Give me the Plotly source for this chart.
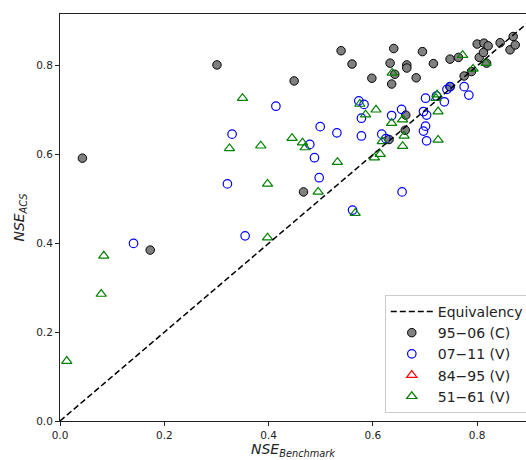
import plotly.graph_objects as go

# NSE of the benchmark model (x) vs. NSE of the ACS model (y), per gauge and period
c9506_bench = [0.043, 0.173, 0.301, 0.449, 0.467, 0.539, 0.560, 0.598, 0.631, 0.633,
               0.636, 0.640, 0.642, 0.662, 0.663, 0.665, 0.665, 0.683, 0.695, 0.716,
               0.748, 0.764, 0.748, 0.775, 0.789, 0.800, 0.804, 0.812, 0.813, 0.818,
               0.821, 0.844, 0.863, 0.869, 0.873]
c9506_acs = [0.592, 0.385, 0.802, 0.766, 0.516, 0.834, 0.804, 0.772, 0.634, 0.806,
             0.759, 0.839, 0.781, 0.655, 0.689, 0.802, 0.795, 0.773, 0.832, 0.805,
             0.815, 0.819, 0.753, 0.777, 0.787, 0.849, 0.819, 0.830, 0.851, 0.806,
             0.845, 0.852, 0.836, 0.866, 0.847]

v0711_bench = [0.141, 0.321, 0.330, 0.355, 0.414, 0.479, 0.488, 0.497, 0.499, 0.531,
               0.561, 0.573, 0.578, 0.578, 0.583, 0.617, 0.625, 0.636, 0.655, 0.656,
               0.697, 0.697, 0.701, 0.701, 0.703, 0.703, 0.722, 0.737, 0.742, 0.748,
               0.775, 0.784]
v0711_acs = [0.400, 0.534, 0.646, 0.417, 0.709, 0.623, 0.593, 0.548, 0.663, 0.649,
             0.475, 0.721, 0.682, 0.642, 0.713, 0.646, 0.636, 0.688, 0.702, 0.516,
             0.697, 0.653, 0.727, 0.664, 0.689, 0.631, 0.732, 0.719, 0.747, 0.753,
             0.753, 0.734]

# 84-95 period: no gauge with a valid score pair (legend entry only)
v8495_bench = [None]
v8495_acs = [None]

v5161_bench = [0.013, 0.079, 0.084, 0.325, 0.350, 0.385, 0.398, 0.398, 0.445, 0.465,
               0.470, 0.495, 0.532, 0.566, 0.575, 0.586, 0.603, 0.606, 0.614, 0.618,
               0.636, 0.637, 0.657, 0.657, 0.660, 0.721, 0.723, 0.725, 0.725, 0.772,
               0.792, 0.817]
v5161_acs = [0.135, 0.286, 0.372, 0.614, 0.727, 0.620, 0.534, 0.413, 0.637, 0.627,
             0.616, 0.516, 0.583, 0.468, 0.714, 0.690, 0.593, 0.701, 0.601, 0.630,
             0.671, 0.784, 0.679, 0.619, 0.642, 0.727, 0.735, 0.697, 0.633, 0.824,
             0.793, 0.806]

equiv_line = [0.0, 1.0]

FONT = "DejaVu Sans"

fig = go.Figure()

fig.add_trace(go.Scatter(
    x=c9506_bench, y=c9506_acs, mode="markers", name="95\u221206 (C)",
    legendrank=2,
    marker=dict(symbol="circle", size=8.5, color="gray",
                line=dict(color="black", width=1)),
))
fig.add_trace(go.Scatter(
    x=v0711_bench, y=v0711_acs, mode="markers", name="07\u221211 (V)",
    legendrank=3,
    marker=dict(symbol="circle-open", size=8.5, color="#0000ff",
                line=dict(color="#0000ff", width=1.2)),
))
fig.add_trace(go.Scatter(
    x=v8495_bench, y=v8495_acs, mode="markers", name="84\u221295 (V)",
    legendrank=4,
    marker=dict(symbol="triangle-up-open", size=9, color="#ff0000",
                line=dict(color="#ff0000", width=1.2)),
))
fig.add_trace(go.Scatter(
    x=v5161_bench, y=v5161_acs, mode="markers", name="51\u221261 (V)",
    legendrank=5,
    marker=dict(symbol="triangle-up-open", size=9, color="#008000",
                line=dict(color="#008000", width=1.2)),
))
fig.add_trace(go.Scatter(
    x=equiv_line, y=equiv_line, mode="lines", name="Equivalency",
    legendrank=1,
    line=dict(color="black", width=1.5, dash="6px,3px"),
))

axis_common = dict(
    showgrid=False, zeroline=False, showline=True, linecolor="#222", linewidth=1,
    ticks="outside", ticklen=4, tickwidth=0.8, tickcolor="#222",
    tickfont=dict(family=FONT, size=10.5, color="#222"),
    tickformat=".1f", dtick=0.2, tick0=0,
)

fig.update_layout(
    width=526, height=460,
    margin=dict(l=60, r=0, t=14, b=39, autoexpand=False),
    paper_bgcolor="white", plot_bgcolor="white",
    font=dict(family=FONT, color="#222"),
    xaxis=dict(range=[0, 0.8936], mirror=True,
               title=dict(text="<i>NSE</i><sub><i>Benchmark</i></sub>",
                          font=dict(family=FONT, size=14), standoff=3),
               **axis_common),
    yaxis=dict(range=[0, 0.9167], mirror=False,
               title=dict(text="<i>NSE</i><sub><i>ACS</i></sub>",
                          font=dict(family=FONT, size=14), standoff=8),
               **axis_common),
    legend=dict(
        x=1.006, xanchor="right", y=0.02, yanchor="bottom",
        bgcolor="rgba(255,255,255,0.8)", bordercolor="#cccccc", borderwidth=1,
        font=dict(family=FONT, size=14, color="#222"),
        tracegroupgap=0, itemwidth=42,
    ),
    showlegend=True,
)

fig.write_html("out.html")
